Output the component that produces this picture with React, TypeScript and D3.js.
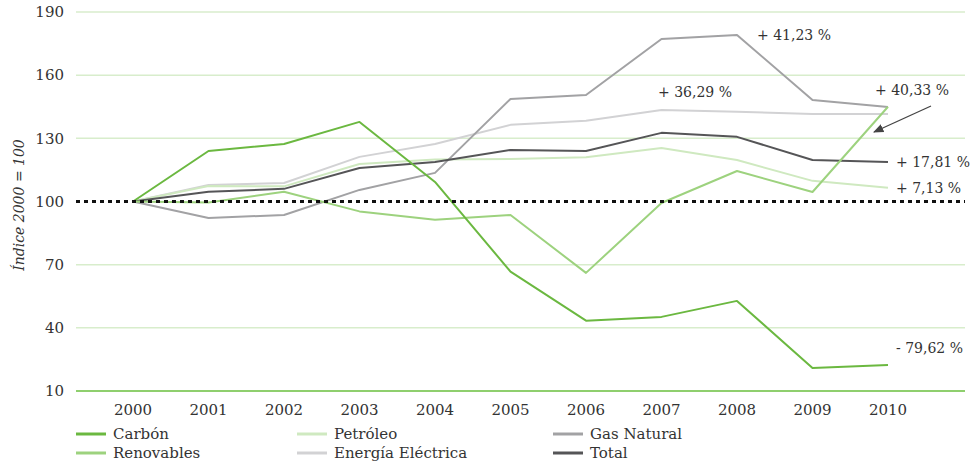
import React from "react";
import * as d3 from "d3";

const years = ["2000","2001","2002","2003","2004","2005","2006","2007","2008","2009","2010"];
const carbon = [100,124,127.3,137.8,109.3,66.7,43.4,45.2,52.8,20.9,22.4];
const petroleo = [100,107.4,107.2,117.8,120,120.2,121,125.4,119.7,109.8,106.5];
const gasNatural = [100,92.2,93.6,105.5,113.6,148.7,150.6,177.2,179.1,148.2,144.9];
const renovables = [100,99.5,104.6,95.3,91.3,93.6,66.1,99.3,114.5,104.5,145];
const energiaElectrica = [100,107.8,108.8,121.2,127.3,136.4,138.3,143.5,142.6,141.6,141.6];
const total = [100,104.6,106,115.9,118.8,124.5,124,132.6,130.7,119.7,118.8];
const yTicks = [10,40,70,100,130,160,190];

const seriesNames = ["Carbón","Renovables","Petróleo","Energía Eléctrica","Gas Natural","Total"];
const seriesValues = [carbon, renovables, petroleo, energiaElectrica, gasNatural, total];
const seriesColors = ["#6bb840","#9dd27e","#cfe9c0","#d2d2d4","#a2a2a4","#555557"];

const annotations = [
  { text: "+ 41,23 %", x: 757, y: 40, anchor: "start" },
  { text: "+ 36,29 %", x: 658, y: 97, anchor: "start" },
  { text: "+ 40,33 %", x: 875, y: 95, anchor: "start" },
  { text: "+ 17,81 %", x: 896, y: 167, anchor: "start" },
  { text: "+ 7,13 %", x: 896, y: 193, anchor: "start" },
  { text: "- 79,62 %", x: 896, y: 353, anchor: "start" },
];

const FONT = "DejaVu Serif";

export default function App() {
  const W = 975, H = 465;
  const x = d3.scalePoint<string>().domain(years).range([133, 888]);
  const y = d3.scaleLinear().domain([10, 190]).range([391, 12]);
  const gridX0 = 76, gridX1 = 965;
  const line = d3.line<number>().x((_, i) => x(years[i]) as number).y((d) => y(d));
  const order = [3, 2, 4, 5, 1, 0];
  const legendCols = [76, 297, 553];
  const legendRows = [434, 453];
  return (
    <svg width={W} height={H} style={{ position: "absolute", left: 0, top: 0, background: "#fff" }}>
      <defs>
        <marker id="arr" viewBox="0 0 10 10" refX="9" refY="5" markerWidth="8" markerHeight="8" orient="auto-start-reverse">
          <path d="M0,1 L10,5 L0,9 z" fill="#444" />
        </marker>
      </defs>
      {yTicks.map((t) => (
        <g key={t}>
          {t !== 10 && t !== 100 && (
            <line x1={gridX0} x2={gridX1} y1={y(t)} y2={y(t)} stroke="#d8edcc" strokeWidth={1.5} />
          )}
          <text x={64} y={y(t)} dy="0.35em" textAnchor="end" fontFamily={FONT} fontSize={15} fill="#333">{t}</text>
        </g>
      ))}
      <line x1={gridX0} x2={gridX1} y1={y(10)} y2={y(10)} stroke="#8fcf6e" strokeWidth={2} />
      {years.map((yr) => (
        <text key={yr} x={x(yr)} y={415} textAnchor="middle" fontFamily={FONT} fontSize={15} fill="#333">{yr}</text>
      ))}
      {order.map((i) => (
        <path key={seriesNames[i]} d={line(seriesValues[i]) || ""} fill="none" stroke={seriesColors[i]} strokeWidth={2} strokeLinejoin="round" />
      ))}
      <line x1={gridX0} x2={gridX1} y1={y(100)} y2={y(100)} stroke="#111" strokeWidth={3} strokeDasharray="4,4" />
      <text transform={`translate(24,205) rotate(-90)`} textAnchor="middle" fontFamily={FONT} fontStyle="italic" fontSize={14} fill="#333">Índice 2000 = 100</text>
      {annotations.map((a) => (
        <text key={a.text} x={a.x} y={a.y} textAnchor={a.anchor as any} fontFamily={FONT} fontSize={14} fill="#333">{a.text}</text>
      ))}
      <line x1={931} y1={106} x2={874} y2={132} stroke="#444" strokeWidth={1.3} markerEnd="url(#arr)" />
      {seriesNames.map((n, i) => {
        const col = Math.floor(i / 2);
        const row = i % 2;
        const lx = legendCols[col];
        const ly = legendRows[row];
        return (
          <g key={n}>
            <line x1={lx} x2={lx + 30} y1={ly} y2={ly} stroke={seriesColors[i]} strokeWidth={3} />
            <text x={lx + 37} y={ly} dy="0.33em" fontFamily={FONT} fontSize={15} fill="#333">{n}</text>
          </g>
        );
      })}
    </svg>
  );
}
